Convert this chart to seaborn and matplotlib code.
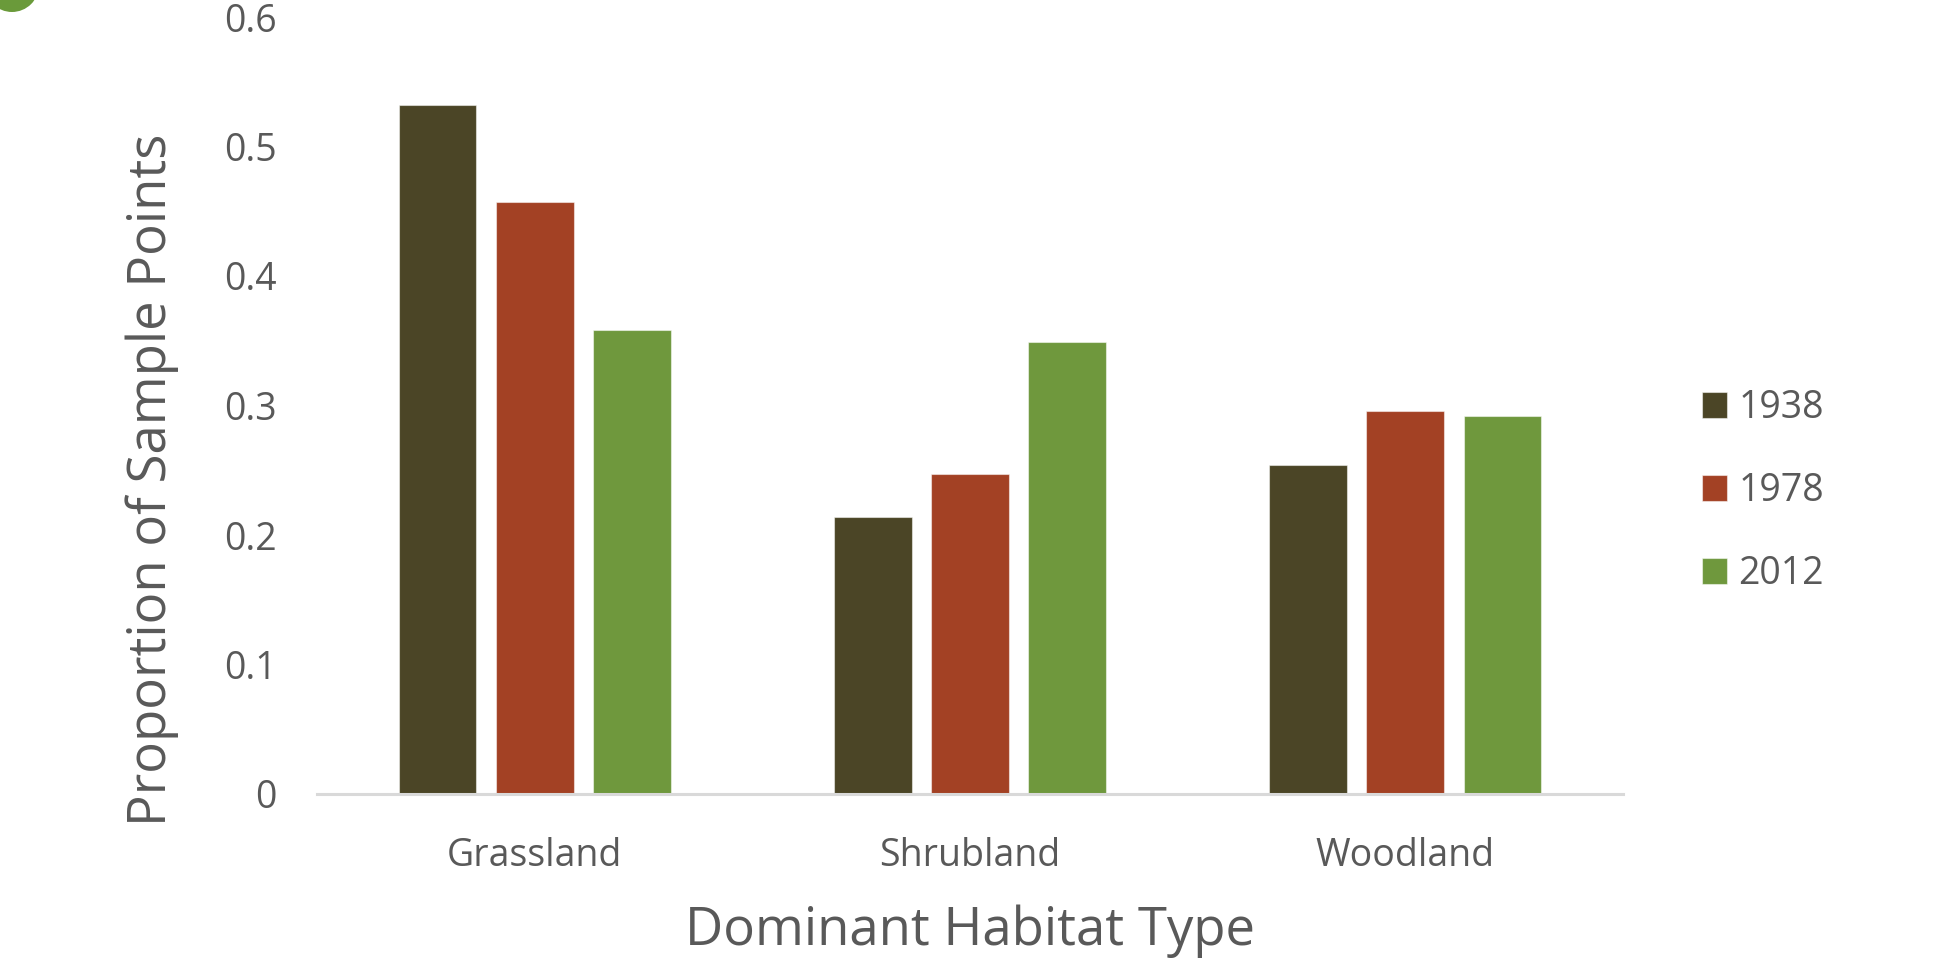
import matplotlib
matplotlib.use("Agg")
import matplotlib.pyplot as plt
from matplotlib.patches import Patch, Ellipse
import seaborn as sns
import pandas as pd

categories = ["Grassland", "Shrubland", "Woodland"]
years = ["1938", "1978", "2012"]
values_1938 = [0.532, 0.214, 0.254]
values_1978 = [0.457, 0.247, 0.296]
values_2012 = [0.358, 0.349, 0.292]
colors = ["#4B4526", "#A34124", "#6F983D"]
y_ticks = [0, 0.1, 0.2, 0.3, 0.4, 0.5, 0.6]
y_tick_labels = ["0", "0.1", "0.2", "0.3", "0.4", "0.5", "0.6"]

rows = []
for yr, vals in zip(years, [values_1938, values_1978, values_2012]):
    for c, v in zip(categories, vals):
        rows.append({"Habitat": c, "Year": yr, "Proportion": v})
df = pd.DataFrame(rows)

sns.set_theme(style="white")
plt.rcParams["font.family"] = ["Open Sans", "DejaVu Sans"]

W, H = 1957, 968
fig = plt.figure(figsize=(W / 100, H / 100), dpi=100)
ax = fig.add_axes([317 / W, 1 - 794 / H, (1623 - 317) / W, (794 - 17) / H])

sns.barplot(data=df, x="Habitat", y="Proportion", hue="Year", order=categories,
            hue_order=years, palette=colors, saturation=1, width=0.67, gap=0.2,
            edgecolor=(1, 1, 1, 0.5), linewidth=0.8, ax=ax, legend=False)

ax.set_xlim(-0.5, 2.5)
ax.set_ylim(0, 0.6)
ax.set_yticks(y_ticks)
ax.set_yticklabels(y_tick_labels)
text_color = "#595959"
ax.tick_params(axis="both", length=0, labelsize=27, labelcolor=text_color)
ax.tick_params(axis="y", pad=29)
ax.tick_params(axis="x", pad=31)
ax.grid(False)
for s in ["top", "right", "left"]:
    ax.spines[s].set_visible(False)
ax.spines["bottom"].set_color("#D9D9D9")
ax.spines["bottom"].set_linewidth(2.2)

ax.set_xlabel("Dominant Habitat Type", fontsize=38, color=text_color)
ax.set_ylabel("Proportion of Sample Points", fontsize=38, color=text_color)
ax.xaxis.set_label_coords(0.5, -(931 - 794) / 777)
ax.xaxis.label.set_va("center")
ax.yaxis.set_label_coords(-(317 - 152) / 1306, (794 - 480) / 777)
ax.yaxis.label.set_va("center")

handles = [Patch(facecolor=c, edgecolor=(1, 1, 1, 0.5), linewidth=0.8) for c in colors]
fig.legend(handles, years, loc="center left", bbox_to_anchor=(1702 / W, 1 - 491 / H),
           bbox_transform=fig.transFigure, frameon=False, fontsize=27,
           labelcolor=text_color, handlelength=0.67, handleheight=0.67,
           handletextpad=0.3, labelspacing=1.2, borderpad=0, borderaxespad=0)

fig.patches.append(Ellipse((12 / W, 1 + 15 / H), 54 / W, 54 / H, transform=fig.transFigure,
                           facecolor="#6A9A3A", edgecolor="none"))

fig.savefig("out.png", dpi=100)
